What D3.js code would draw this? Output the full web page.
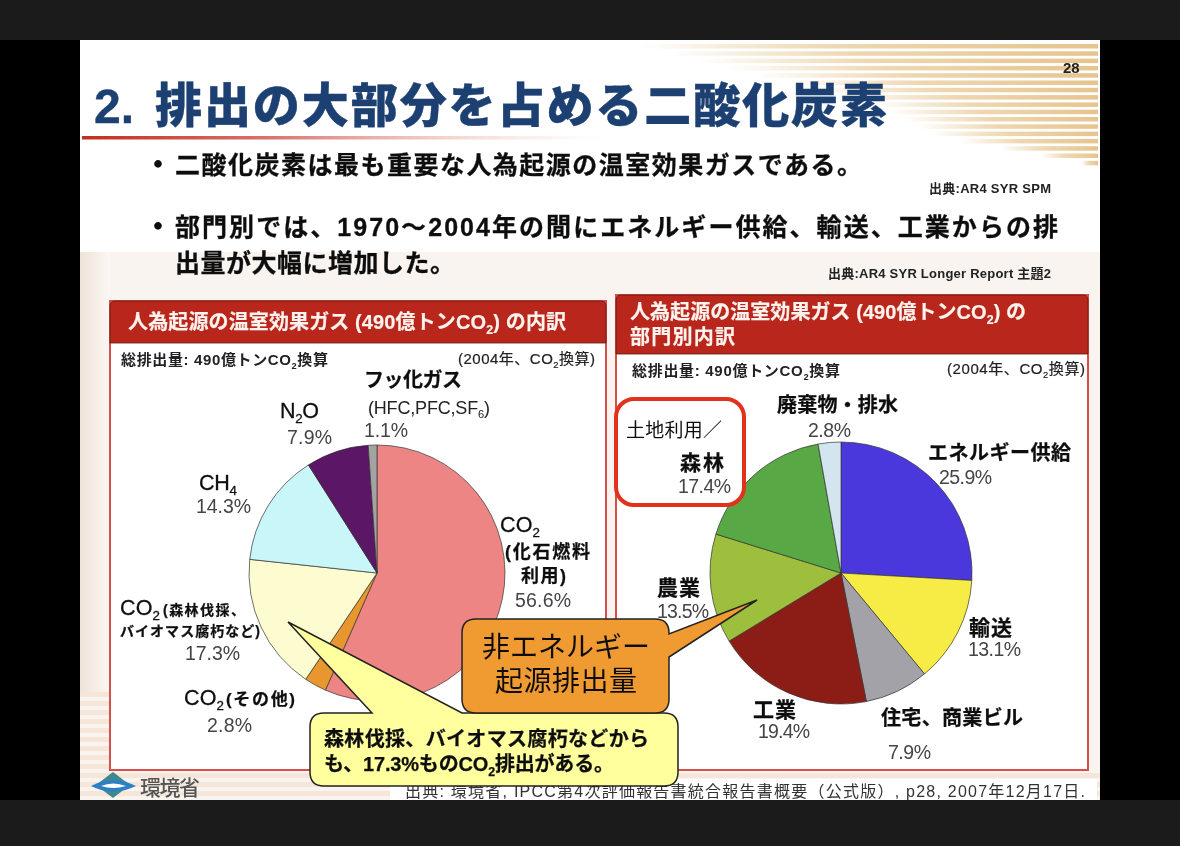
<!DOCTYPE html>
<html>
<head>
<meta charset="utf-8">
<script src="https://cdn.jsdelivr.net/npm/d3@7"></script>
<style>
html,body{margin:0;padding:0;background:#000;overflow:hidden}
text{font-family:"Liberation Sans","Noto Sans CJK JP",sans-serif}
</style>
</head>
<body>
<svg id="mainsvg" width="1180" height="846"></svg>
<script>
// left pie, clockwise from 12 o'clock
let gasNames = ["CO2 fossil", "CO2 other", "CO2 forest", "CH4", "N2O", "F-gas"];
let gasValues = [56.6, 2.8, 17.3, 14.3, 7.9, 1.1];
let gasColors = ["#ee8585", "#e8962e", "#fdfbd0", "#c9f6f8", "#5c1266", "#a3a3a3"];

// right pie
let sectorNames = ["エネルギー供給", "輸送", "住宅、商業ビル", "工業", "農業", "森林", "廃棄物・排水"];
let sectorValues = [25.9, 13.1, 7.9, 19.4, 13.5, 17.4, 2.8];
let sectorColors = ["#4c39dc", "#f7ec45", "#a3a2a8", "#8c1f16", "#9dbf3c", "#58a845", "#d3e6f0"];

let pct = v => v.toFixed(1) + "%";

let mainsvg = d3.select("#mainsvg");
let defs = mainsvg.append("defs");

function gradient(id, stops) {
    let g = defs.append("linearGradient").attr("id", id);
    stops.forEach(s => g.append("stop").attr("offset", s[0]).attr("stop-color", s[1]).attr("stop-opacity", s[2]));
}
gradient("stripe", [[0, "#e6c48c", 0], [0.45, "#e9cc9c", 0.8], [1, "#e6c48c", 1]]);
gradient("rule", [[0, "#c0301c", 1], [0.35, "#d8706a", 1], [0.7, "#f0c8c0", 0.8], [1, "#f5dcd0", 0]]);
gradient("side", [[0, "#efe3d8", 1], [1, "#fbf7f3", 1]]);
defs.append("filter").attr("id", "soft").append("feGaussianBlur").attr("stdDeviation", 0.45);

// video frame
mainsvg.append("rect").attr("width", 1180).attr("height", 846).attr("fill", "#000");
mainsvg.append("rect").attr("width", 1180).attr("height", 40).attr("fill", "#1b1b1b");

let slide = mainsvg.append("g").attr("filter", "url(#soft)");
slide.append("rect").attr("x", 80).attr("y", 40).attr("width", 1020).attr("height", 760).attr("fill", "#fff");
slide.append("rect").attr("x", 80).attr("y", 252).attr("width", 1020).attr("height", 548).attr("fill", "#f9f4f0");
slide.append("rect").attr("x", 80).attr("y", 252).attr("width", 30).attr("height", 440).attr("fill", "url(#side)");

// top right stripes, shorter towards the bottom
d3.range(44, 162, 7.3).forEach(y => {
    let x0 = y < 100 ? 640 + (y - 44) * 4 : y < 135 ? 870 + (y - 100) * 2 : 940 + (y - 135) * 5.5;
    slide.append("rect").attr("x", x0).attr("y", y).attr("width", 1098 - x0).attr("height", 4.5).attr("fill", "url(#stripe)");
});
// bottom stripes
d3.range(692, 800, 9).forEach(y => {
    slide.append("rect").attr("x", 80).attr("y", y).attr("width", y > 770 ? 1020 : 30).attr("height", 5).attr("fill", "#f5e6d9");
});

slide.append("rect").attr("x", 82).attr("y", 136).attr("width", 520).attr("height", 3.5).attr("fill", "url(#rule)");

// text helper: "_2" style subscripts, width = target span in px
function label(parent, str, x, y, o) {
    o = o || {};
    let size = o.size || 18;
    let t = parent.append("text").attr("x", x).attr("y", y)
        .attr("font-size", size)
        .attr("font-weight", o.weight || 400)
        .attr("fill", o.fill || "#111")
        .attr("text-anchor", o.anchor || "start");
    if (o.stroke) t.attr("stroke", o.fill || "#111").attr("stroke-width", o.stroke);
    let drop = 0;
    str.split(/(_\d)/).filter(s => s).forEach(part => {
        let span = t.append("tspan").attr("font-size", size);
        if (/^_\d$/.test(part)) {
            let s = size * 0.62;
            span.attr("font-size", s).attr("dy", s * 0.4).text(part[1]);
            drop = s * 0.4;
        } else {
            if (drop) span.attr("dy", -drop);
            drop = 0;
            span.text(part);
        }
    });
    if (o.width) {
        let n = str.replace(/_/g, "").length;
        let len = t.node().getComputedTextLength();
        t.attr("letter-spacing", (o.width - len) / Math.max(1, n - 1));
    }
    return t;
}

// headline and bullets
label(slide, "2.", 94, 123, {size: 48, weight: 700, fill: "#1c3f72", width: 40, stroke: 0.4});
label(slide, "排出の大部分を占める二酸化炭素", 155, 122, {size: 47, weight: 900, fill: "#1c3f72", width: 732, stroke: 0.4});
label(slide, "28", 1063, 73, {size: 15, weight: 700, fill: "#222"});
label(slide, "・", 143, 175, {size: 30, weight: 700});
label(slide, "二酸化炭素は最も重要な人為起源の温室効果ガスである。", 175, 174, {size: 25, weight: 700, width: 687, stroke: 0.3});
label(slide, "出典:AR4 SYR SPM", 929, 193, {size: 13, weight: 700, fill: "#222", width: 122});
label(slide, "・", 143, 237, {size: 30, weight: 700});
label(slide, "部門別では、1970～2004年の間にエネルギー供給、輸送、工業からの排", 175, 236, {size: 25, weight: 700, width: 883, stroke: 0.3});
label(slide, "出量が大幅に増加した。", 175, 272, {size: 25, weight: 700, width: 280, stroke: 0.3});
label(slide, "出典:AR4 SYR Longer Report 主題2", 828, 278, {size: 13, weight: 700, fill: "#222", width: 223});

// panels
function panel(x, y, w, h, headH) {
    slide.append("rect").attr("x", x).attr("y", y).attr("width", w).attr("height", h)
        .attr("fill", "#fff").attr("stroke", "#d8504a").attr("stroke-width", 2);
    slide.append("path")
        .attr("d", `M${x},${y + headH}V${y + 5}Q${x},${y} ${x + 5},${y}H${x + w - 5}Q${x + w},${y} ${x + w},${y + 5}V${y + headH}Z`)
        .attr("fill", "#b9251a").attr("stroke", "#5a1a12").attr("stroke-width", 0.8);
}
panel(110, 301, 496, 469, 42);
panel(616, 295, 472, 475, 59);

let headText = {size: 20, weight: 700, fill: "#fdf3ee", stroke: 0.2};
label(slide, "人為起源の温室効果ガス (490億トンCO_2) の内訳", 128, 329, {...headText, width: 438});
label(slide, "総排出量: 490億トンCO_2換算", 121, 365, {size: 15, weight: 700, fill: "#222", width: 207});
label(slide, "(2004年、CO_2換算)", 458, 364, {size: 15, fill: "#222", width: 137, stroke: 0.2});
label(slide, "人為起源の温室効果ガス (490億トンCO_2) の", 630, 319, {...headText, width: 396});
label(slide, "部門別内訳", 630, 344, {...headText, width: 105});
label(slide, "総排出量: 490億トンCO_2換算", 632, 376, {size: 15, weight: 700, fill: "#222", width: 208});
label(slide, "(2004年、CO_2換算)", 947, 374, {size: 15, fill: "#222", width: 138, stroke: 0.2});

// pies
function drawPie(values, colors, cx, cy, r) {
    let pie = d3.pie().sort(null).value(d => d);
    let arc = d3.arc().innerRadius(0).outerRadius(r);
    slide.append("g").attr("transform", `translate(${cx},${cy})`)
        .selectAll("path").data(pie(values)).join("path")
        .attr("d", arc)
        .attr("fill", (d, i) => colors[i])
        .attr("stroke", "#333").attr("stroke-width", 0.7);
}
drawPie(gasValues, gasColors, 377, 573, 128);
drawPie(sectorValues, sectorColors, 841, 573, 131);

let num = w => ({size: 19.5, fill: "#444", width: w});
let gas = w => ({size: 21.5, fill: "#111", width: w, stroke: 0.3});
let bold = (size, w) => ({size: size, weight: 700, width: w, stroke: 0.25});

// left pie labels
label(slide, "フッ化ガス", 364, 387, bold(20, 98));
label(slide, "(HFC,PFC,SF_6)", 368, 414, {size: 18, fill: "#222", width: 122});
label(slide, pct(gasValues[5]), 364, 437, num(44));
label(slide, "N_2O", 280, 418, gas(39));
label(slide, pct(gasValues[4]), 287, 444, num(45));
label(slide, "CH_4", 199, 490, gas(38));
label(slide, pct(gasValues[3]), 196, 513, num(55));
label(slide, "CO_2", 500, 532, gas(40));
label(slide, "(化石燃料", 505, 558, bold(18, 85));
label(slide, "利用)", 521, 582, bold(18, 45));
label(slide, pct(gasValues[0]), 515, 607, num(56));
label(slide, "CO_2", 120, 615, gas(40));
label(slide, "(森林伐採、", 163, 615, bold(14, 82));
label(slide, "バイオマス腐朽など)", 120, 636, bold(14, 140));
label(slide, pct(gasValues[2]), 185, 660, num(55));
label(slide, "CO_2", 184, 705, gas(40));
label(slide, "(その他)", 226, 705, bold(17, 69));
label(slide, pct(gasValues[1]), 207, 732, num(45));

// red highlight box over the forest slice
slide.append("rect").attr("x", 616).attr("y", 399).attr("width", 128).attr("height", 106).attr("rx", 18)
    .attr("fill", "#fff").attr("stroke", "#e2301f").attr("stroke-width", 4);

// right pie labels
label(slide, "廃棄物・排水", 777, 412, bold(20, 121));
label(slide, pct(sectorValues[6]), 808, 437, num(43));
label(slide, "エネルギー供給", 928, 460, bold(20, 143));
label(slide, pct(sectorValues[0]), 939, 484, num(53));
label(slide, "土地利用／", 626, 437, {size: 19, fill: "#111", width: 96});
label(slide, "森林", 680, 470, bold(21, 44));
label(slide, pct(sectorValues[5]), 678, 493, num(53));
label(slide, "農業", 657, 595, bold(21, 43));
label(slide, pct(sectorValues[4]), 657, 618, num(52));
label(slide, "輸送", 969, 635, bold(21, 43));
label(slide, pct(sectorValues[1]), 968, 656, num(53));
label(slide, "工業", 753, 717, bold(21, 43));
label(slide, pct(sectorValues[3]), 758, 738, num(52));
label(slide, "住宅、商業ビル", 881, 725, bold(20, 142));
label(slide, pct(sectorValues[2]), 888, 759, num(43));

// logo + footer strip
slide.append("path").attr("d", "M113,772L130,785L113,798L96,785Z").attr("fill", "#3d8a8c");
slide.append("path").attr("d", "M91,786Q113,774 136,786Q113,797 91,786Z").attr("fill", "#2e7fc4");
slide.append("path").attr("d", "M101,786Q113,781 126,786Q113,790 101,786Z").attr("fill", "#fff");
label(slide, "環境省", 140, 795, {size: 21, weight: 500, fill: "#555", width: 60});

slide.append("rect").attr("x", 390).attr("y", 779).attr("width", 707).attr("height", 21).attr("fill", "#fff");
label(slide, "出典: 環境省, IPCC第4次評価報告書統合報告書概要（公式版）, p28, 2007年12月17日.", 405, 797, {size: 16, fill: "#333", width: 680});

// callouts
function callout(x, y, w, h, rx, base0, base1, tip, fill) {
    let r = rx, b = y + h;
    let d;
    if (tip[0] > x + w) { // tail leaving the right edge
        d = `M${x + r},${y}H${x + w - r}Q${x + w},${y} ${x + w},${y + r}V${base0}L${tip[0]},${tip[1]}L${x + w},${base1}V${b - r}Q${x + w},${b} ${x + w - r},${b}H${x + r}Q${x},${b} ${x},${b - r}V${y + r}Q${x},${y} ${x + r},${y}Z`;
    } else { // tail leaving the top edge
        d = `M${x + r},${y}H${base0}L${tip[0]},${tip[1]}L${base1},${y}H${x + w - r}Q${x + w},${y} ${x + w},${y + r}V${b - r}Q${x + w},${b} ${x + w - r},${b}H${x + r}Q${x},${b} ${x},${b - r}V${y + r}Q${x},${y} ${x + r},${y}Z`;
    }
    slide.append("path").attr("d", d).attr("fill", fill).attr("stroke", "#222").attr("stroke-width", 1.5);
}
callout(310, 713, 368, 73, 14, 372, 462, [288, 622], "#ffff9e");
label(slide, "森林伐採、バイオマス腐朽などから", 324, 746, bold(20, 325));
label(slide, "も、17.3%ものCO_2排出がある。", 324, 771, bold(20, 290));
callout(462, 619, 207, 94, 14, 634, 657, [757, 600], "#f09a32");
label(slide, "非エネルギー", 482, 657, {size: 28, fill: "#111", width: 168});
label(slide, "起源排出量", 495, 691, {size: 28, fill: "#111", width: 142});

// bottom bar sits over the clipped footer
mainsvg.append("rect").attr("y", 800).attr("width", 1180).attr("height", 46).attr("fill", "#1b1b1b");
</script>
</body>
</html>
